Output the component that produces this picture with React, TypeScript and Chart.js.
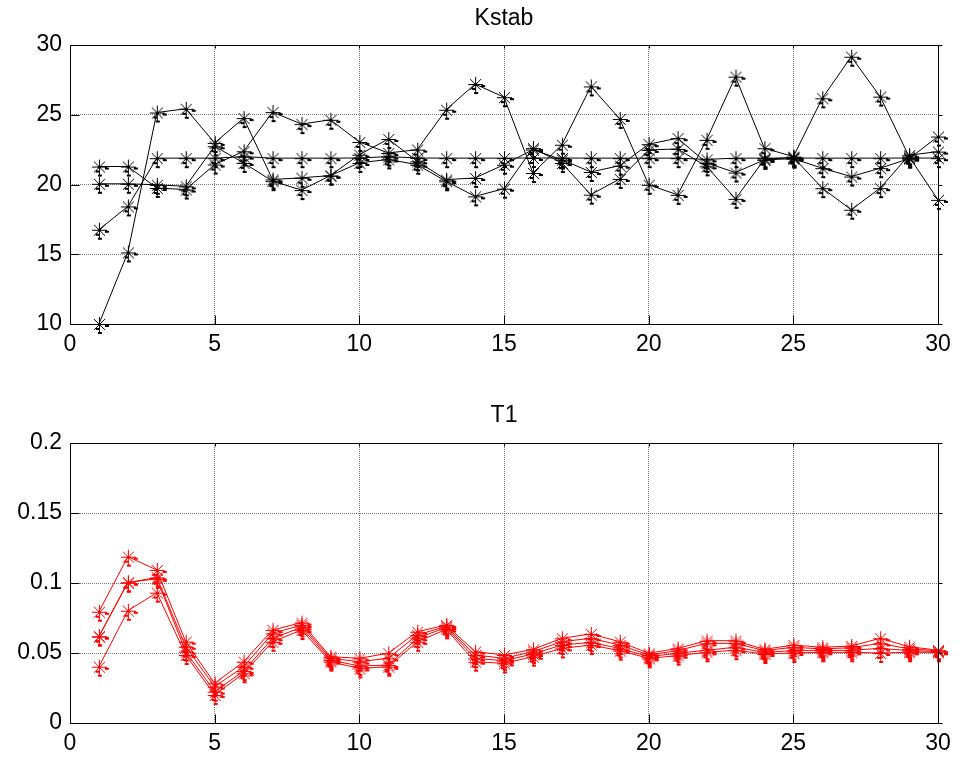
import React, { useEffect, useRef } from "react";
import { Chart, registerables } from "chart.js";

Chart.register(...registerables);

// ---------- data ----------
const iterations = [
  1, 2, 3, 4, 5, 6, 7, 8, 9, 10, 11, 12, 13, 14, 15,
  16, 17, 18, 19, 20, 21, 22, 23, 24, 25, 26, 27, 28, 29, 30,
];

const xTickLabels = ["0", "5", "10", "15", "20", "25", "30"];
const kstabTickLabels = ["10", "15", "20", "25", "30"];
const t1TickLabels = ["0", "0.05", "0.1", "0.15", "0.2"];

const kstabTitle = "Kstab";
const t1Title = "T1";

const kstabA = [
  10.0, 15.13, 25.16, 25.43, 22.98, 24.76, 20.36, 20.48, 20.64, 22.14,
  23.26, 21.66, 20.35, 20.47, 21.42, 22.5, 21.78, 20.9, 21.35, 22.89,
  23.32, 21.55, 20.86, 21.77, 21.85, 21.17, 20.57, 21.17, 21.85, 23.44,
];
const kstabB = [
  16.76, 18.43, 21.89, 21.89, 21.89, 22.0, 21.89, 21.89, 21.89, 21.9,
  22.0, 21.9, 21.89, 21.89, 21.89, 21.9, 21.9, 21.89, 21.89, 21.89,
  21.89, 21.8, 21.89, 21.89, 21.9, 21.89, 21.89, 21.89, 21.9, 21.89,
];
const kstabC = [
  20.05, 20.05, 19.98, 19.87, 22.74, 21.55, 20.24, 19.6, 20.64, 21.55,
  21.8, 21.42, 20.23, 19.15, 19.7, 22.61, 21.54, 19.27, 20.4, 22.48,
  22.55, 21.3, 18.97, 21.8, 21.95, 19.74, 18.19, 19.74, 22.1, 22.36,
];
const kstabD = [
  21.29, 21.29, 19.75, 19.64, 21.43, 22.38, 25.19, 24.33, 24.64, 23.05,
  22.26, 22.5, 25.36, 27.2, 26.26, 20.82, 22.85, 27.03, 24.7, 19.98,
  19.26, 23.2, 27.73, 22.6, 22.0, 26.18, 29.16, 26.3, 22.0, 18.9,
];

const t1E = [
  0.0795, 0.1188, 0.1093, 0.0581, 0.0283, 0.0438, 0.0664, 0.0717, 0.0474, 0.0462,
  0.0498, 0.0652, 0.07, 0.051, 0.0486, 0.0526, 0.0605, 0.0636, 0.0581, 0.0498,
  0.0533, 0.0588, 0.0588, 0.0526, 0.0557, 0.0541, 0.055, 0.0605, 0.0545, 0.052,
];
const t1F = [
  0.0617, 0.1002, 0.104, 0.0545, 0.026, 0.0402, 0.064, 0.07, 0.0462, 0.0438,
  0.0462, 0.0629, 0.069, 0.0486, 0.0462, 0.051, 0.0581, 0.0605, 0.0557, 0.0486,
  0.0517, 0.0569, 0.0569, 0.0517, 0.0541, 0.0529, 0.0538, 0.0569, 0.0529, 0.0517,
];
const t1G = [
  0.062, 0.1005, 0.103, 0.051, 0.0224, 0.0371, 0.0605, 0.0683, 0.045, 0.0407,
  0.0414, 0.0605, 0.0683, 0.0462, 0.0445, 0.0493, 0.0557, 0.0576, 0.0533, 0.0474,
  0.0498, 0.052, 0.0541, 0.0505, 0.0517, 0.0517, 0.052, 0.0533, 0.0517, 0.051,
];
const t1H = [
  0.0402, 0.0802, 0.0931, 0.0486, 0.02, 0.0355, 0.058, 0.0664, 0.0438, 0.039,
  0.0402, 0.058, 0.0669, 0.0438, 0.0426, 0.0474, 0.0533, 0.0557, 0.0517, 0.0462,
  0.0481, 0.0505, 0.052, 0.0493, 0.05, 0.0505, 0.0505, 0.05, 0.0505, 0.0505,
];

// ---------- styling helpers ----------
const FONT = "'Liberation Sans', Arial, Helvetica, sans-serif";
const FONT_SIZE = 23;

function makeMarker(color: string): HTMLCanvasElement {
  const c = document.createElement("canvas");
  c.width = 34;
  c.height = 34;
  const ctx = c.getContext("2d")!;
  const cx = 17;
  const cy = 17;
  ctx.strokeStyle = color;
  ctx.lineWidth = 1;
  ctx.beginPath();
  ctx.moveTo(cx - 7, cy + 0.5);
  ctx.lineTo(cx + 8, cy + 0.5);
  ctx.moveTo(cx + 0.5, cy - 7);
  ctx.lineTo(cx + 0.5, cy + 8);
  ctx.moveTo(cx - 5, cy - 5);
  ctx.lineTo(cx + 6, cy + 6);
  ctx.moveTo(cx - 5, cy + 6);
  ctx.lineTo(cx + 6, cy - 5);
  ctx.stroke();
  ctx.fillStyle = color;
  ctx.fillRect(cx + 6, cy + 1, 4, 2);
  ctx.fillRect(cx - 3, cy + 4, 4, 2);
  ctx.fillRect(cx - 1, cy + 8, 4, 2);
  return c;
}

const boxPlugin = {
  id: "matlabBox",
  afterDatasetsDraw(chart: any) {
    const { ctx, chartArea } = chart;
    const xs = chart.scales.x;
    const ys = chart.scales.y;
    const l = Math.round(chartArea.left) + 0.5;
    const r = Math.round(chartArea.right) + 0.5;
    const t = Math.round(chartArea.top) + 0.5;
    const b = Math.round(chartArea.bottom) + 0.5;
    ctx.save();
    ctx.strokeStyle = "#000";
    ctx.lineWidth = 1;
    ctx.setLineDash([]);
    ctx.strokeRect(l, t, r - l, b - t);
    ctx.beginPath();
    for (const tk of xs.ticks) {
      const px = Math.round(xs.getPixelForValue(tk.value)) + 0.5;
      ctx.moveTo(px, b);
      ctx.lineTo(px, b - 9);
      ctx.moveTo(px, t);
      ctx.lineTo(px, t + 3);
    }
    for (const tk of ys.ticks) {
      const py = Math.round(ys.getPixelForValue(tk.value)) + 0.5;
      ctx.moveTo(l, py);
      ctx.lineTo(l + 9, py);
      ctx.moveTo(r, py);
      ctx.lineTo(r + 4, py);
    }
    ctx.stroke();
    ctx.restore();
  },
};

type PanelOpts = {
  title: string;
  series: number[][];
  color: string;
  yLabels: string[];
  xAxisHeight: number;
  titlePadTop: number;
  titlePadBottom: number;
};

function buildConfig(o: PanelOpts): any {
  const marker = makeMarker(o.color);
  const xVals = xTickLabels.map(Number);
  const yVals = o.yLabels.map(Number);
  const font = { family: FONT, size: FONT_SIZE, weight: "normal" as const };
  return {
    type: "line",
    data: {
      datasets: o.series.map((s) => ({
        data: iterations.map((it, i) => ({ x: it, y: s[i] })),
        borderColor: o.color,
        borderWidth: 1,
        pointStyle: marker,
        pointRadius: 7,
        fill: false,
        tension: 0,
        clip: false,
      })),
    },
    options: {
      animation: false,
      responsive: false,
      events: [],
      layout: { padding: { left: 0, right: 24, top: 0, bottom: 0 } },
      plugins: {
        legend: { display: false },
        tooltip: { enabled: false },
        title: {
          display: true,
          fullSize: false,
          text: o.title,
          color: "#000",
          font,
          padding: { top: o.titlePadTop, bottom: o.titlePadBottom },
        },
      },
      scales: {
        x: {
          type: "linear",
          min: xVals[0],
          max: xVals[xVals.length - 1],
          afterBuildTicks: (s: any) => {
            s.ticks = xVals.map((v) => ({ value: v }));
          },
          afterFit: (s: any) => {
            s.height = o.xAxisHeight;
          },
          ticks: {
            color: "#000",
            font,
            padding: 7,
            maxRotation: 0,
            autoSkip: false,
            callback: (v: number) => {
              const i = xVals.indexOf(v);
              return i >= 0 ? xTickLabels[i] : "";
            },
          },
          grid: { color: "#7a7a7a", lineWidth: 1, drawTicks: false },
          border: { display: false, dash: [1, 1] },
        },
        y: {
          type: "linear",
          min: yVals[0],
          max: yVals[yVals.length - 1],
          afterBuildTicks: (s: any) => {
            s.ticks = yVals.map((v) => ({ value: v }));
          },
          afterFit: (s: any) => {
            s.width = 70;
          },
          ticks: {
            color: "#000",
            font,
            padding: 8,
            autoSkip: false,
            callback: (v: number) => {
              const i = yVals.findIndex((yv) => Math.abs(yv - v) < 1e-9);
              return i >= 0 ? o.yLabels[i] : "";
            },
          },
          grid: { color: "#7a7a7a", lineWidth: 1, drawTicks: false },
          border: { display: false, dash: [1, 1] },
        },
      },
    },
    plugins: [boxPlugin],
  };
}

export default function App() {
  const topRef = useRef<HTMLCanvasElement>(null);
  const botRef = useRef<HTMLCanvasElement>(null);

  useEffect(() => {
    const c1 = new Chart(
      topRef.current!,
      buildConfig({
        title: kstabTitle,
        series: [kstabA, kstabB, kstabC, kstabD],
        color: "#000000",
        yLabels: kstabTickLabels,
        xAxisHeight: 59,
        titlePadTop: 4.5,
        titlePadBottom: 12.9,
      })
    );
    const c2 = new Chart(
      botRef.current!,
      buildConfig({
        title: t1Title,
        series: [t1E, t1F, t1G, t1H],
        color: "#ff0000",
        yLabels: t1TickLabels,
        xAxisHeight: 44,
        titlePadTop: 18.5,
        titlePadBottom: 13.9,
      })
    );
    return () => {
      c1.destroy();
      c2.destroy();
    };
  }, []);

  return (
    <div
      style={{
        position: "absolute",
        left: 0,
        top: 0,
        width: 962,
        height: 767,
        background: "#fff",
      }}
    >
      <canvas
        ref={topRef}
        width={962}
        height={383}
        style={{ position: "absolute", left: 0, top: 0, width: 962, height: 383 }}
      />
      <canvas
        ref={botRef}
        width={962}
        height={384}
        style={{ position: "absolute", left: 0, top: 383, width: 962, height: 384 }}
      />
    </div>
  );
}
